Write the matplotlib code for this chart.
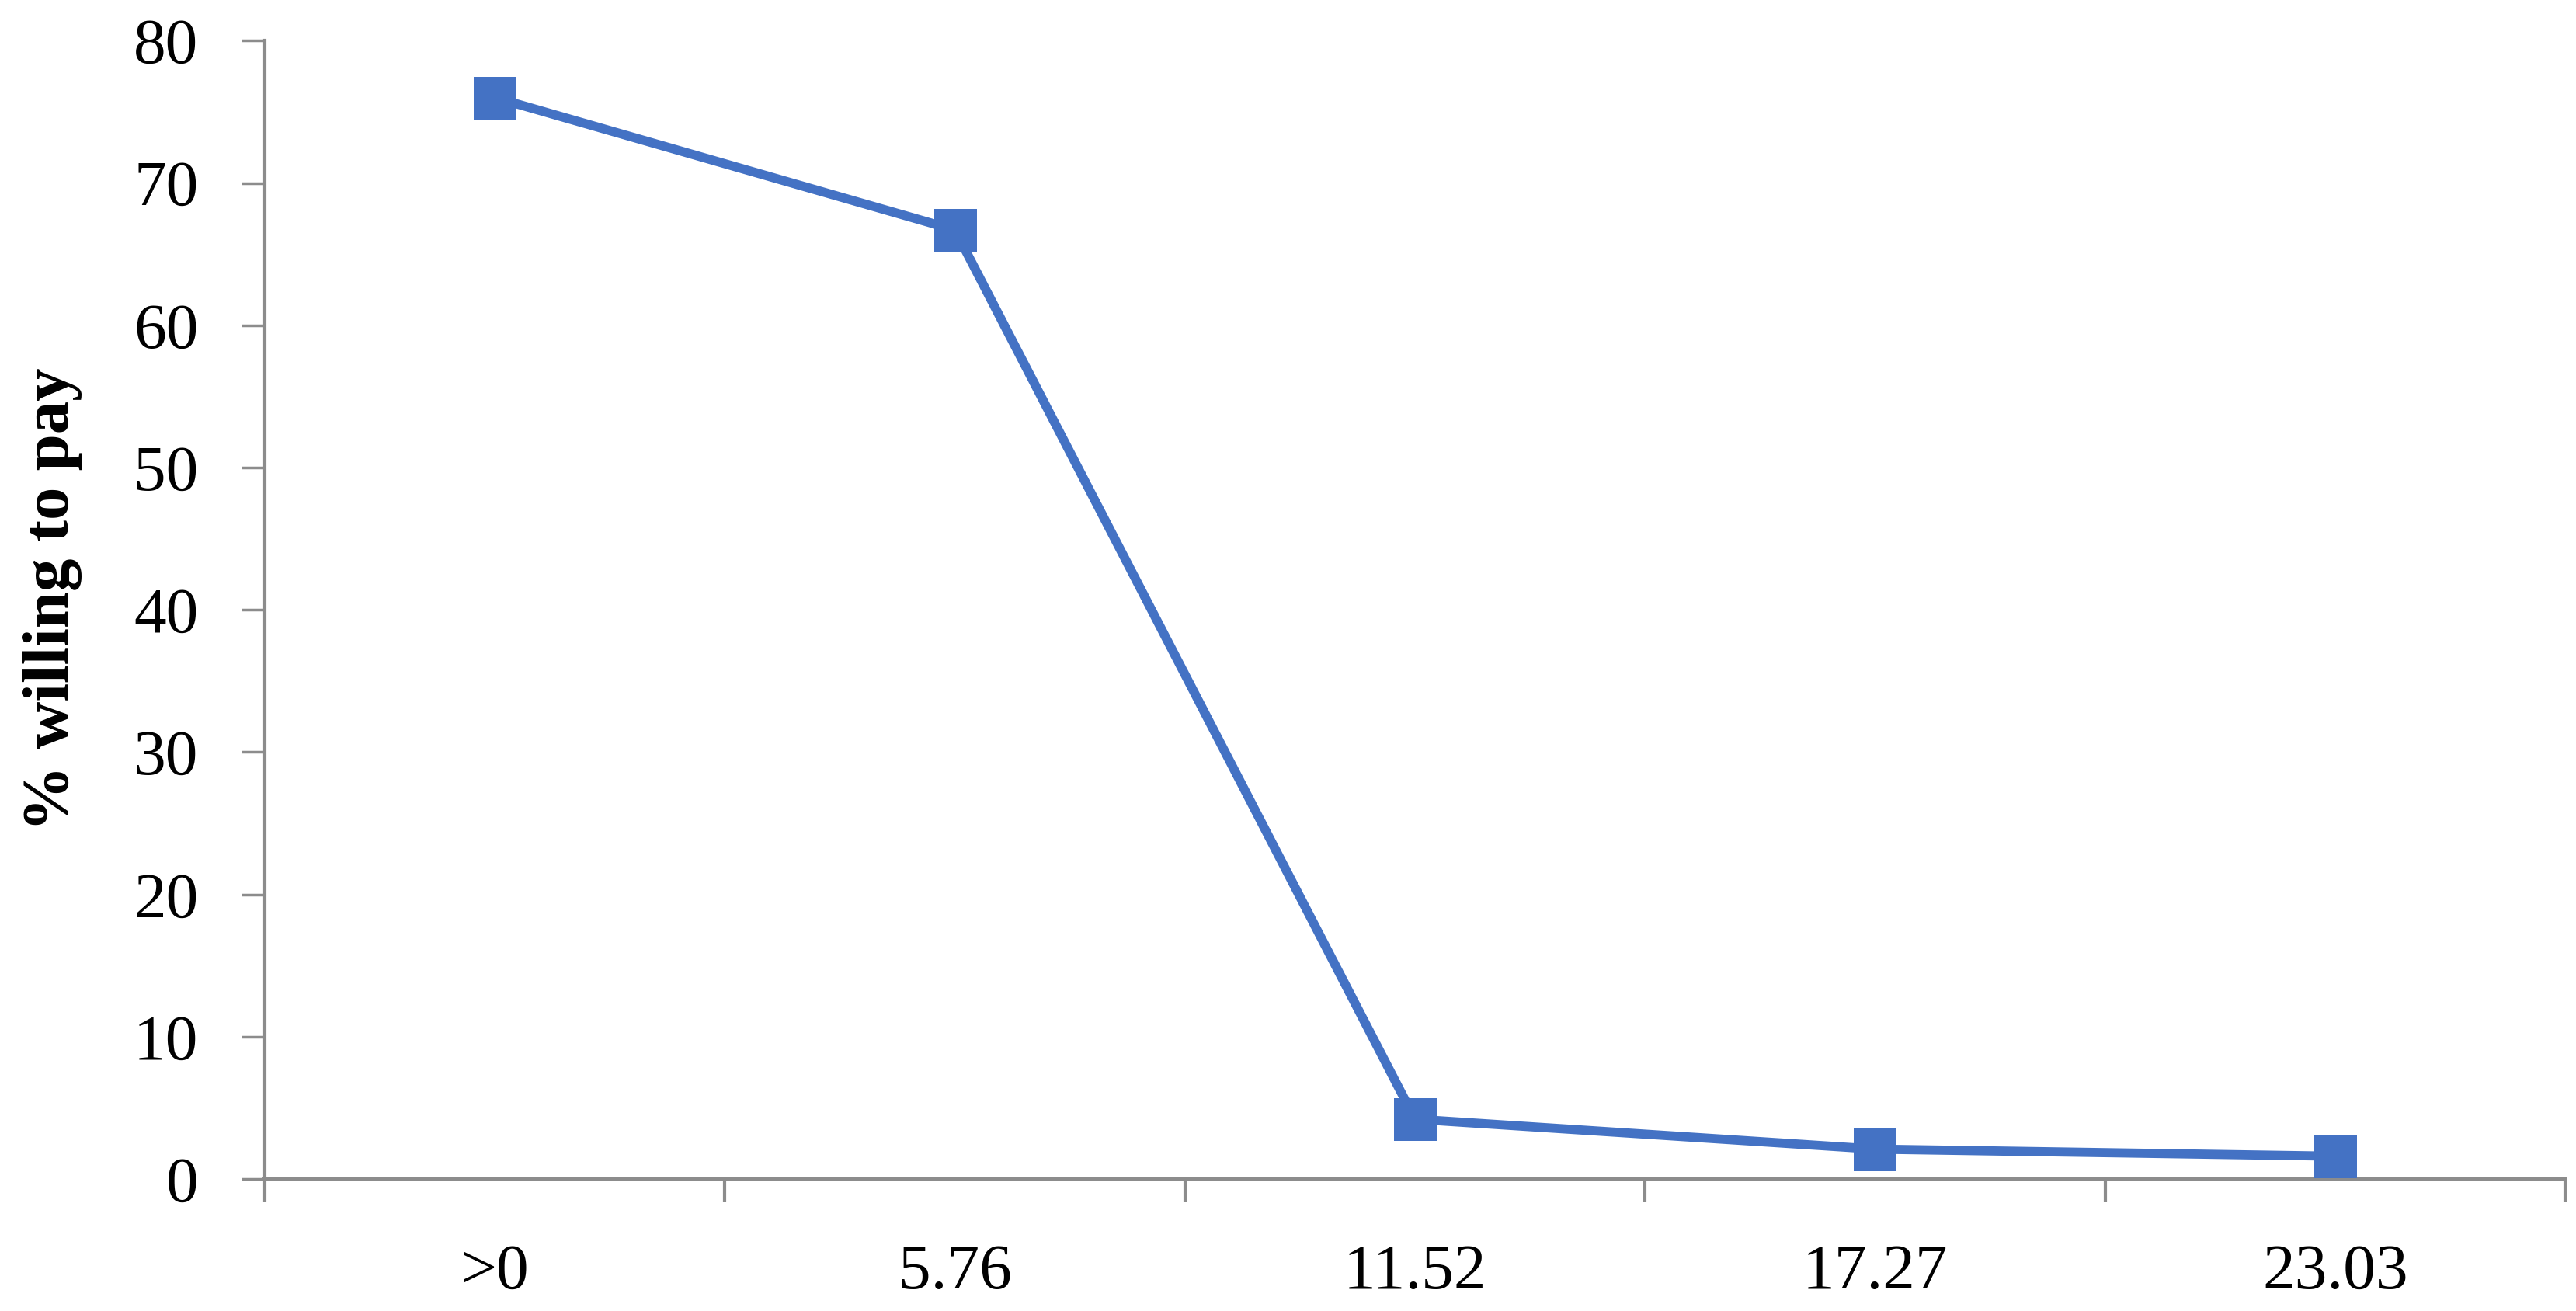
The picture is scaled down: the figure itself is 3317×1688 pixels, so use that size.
import numpy as np
import matplotlib
matplotlib.use('Agg')
import matplotlib.pyplot as plt

# data
price_labels = ['>0', '5.76', '11.52', '17.27', '23.03']
willing_pct = [76.0, 66.7, 4.2, 2.1, 1.6]
y_ticks = [0, 10, 20, 30, 40, 50, 60, 70, 80]

line_col = '#4472C4'
axis_col = '#8c8c8c'

plt.rcParams['font.family'] = ['Liberation Serif', 'DejaVu Serif']

fig = plt.figure(figsize=(33.17, 16.88), dpi=100)
ax = fig.add_axes([0.1028, 0.1007, 0.8930, 0.8683])

x = np.arange(len(price_labels))
ax.plot(x, willing_pct, color=line_col, lw=8.5, marker='s', ms=39.6,
        mew=0, mfc=line_col, clip_on=False, zorder=3)

ax.set_xlim(-0.5, len(price_labels) - 0.5)
ax.set_ylim(0, 80)

# spines - excel look
for s in ['top', 'right']:
    ax.spines[s].set_visible(False)
ax.spines['left'].set_color(axis_col)
ax.spines['left'].set_linewidth(3.0)
ax.spines['bottom'].set_color(axis_col)
ax.spines['bottom'].set_linewidth(4.3)
ax.spines['bottom'].set_zorder(2)

# y axis
ax.set_yticks(y_ticks)
ax.tick_params(axis='y', which='major', direction='out', length=21.6, width=2.5,
               color=axis_col, labelsize=60, pad=40)

# x axis: labels in the middle, tick marks between categories
ax.set_xticks(x)
ax.set_xticklabels(price_labels)
ax.set_xticks(np.arange(-0.5, len(price_labels)), minor=True)
ax.tick_params(axis='x', which='major', length=0, labelsize=60, pad=60)
ax.tick_params(axis='x', which='minor', direction='out', length=21.6, width=3.0,
               color=axis_col)

fig.text(0.0202, 0.543, '% willing to pay', rotation=90, ha='center', va='center',
         fontsize=61, fontweight='bold')

fig.savefig('out.png', dpi=100, facecolor='white')
